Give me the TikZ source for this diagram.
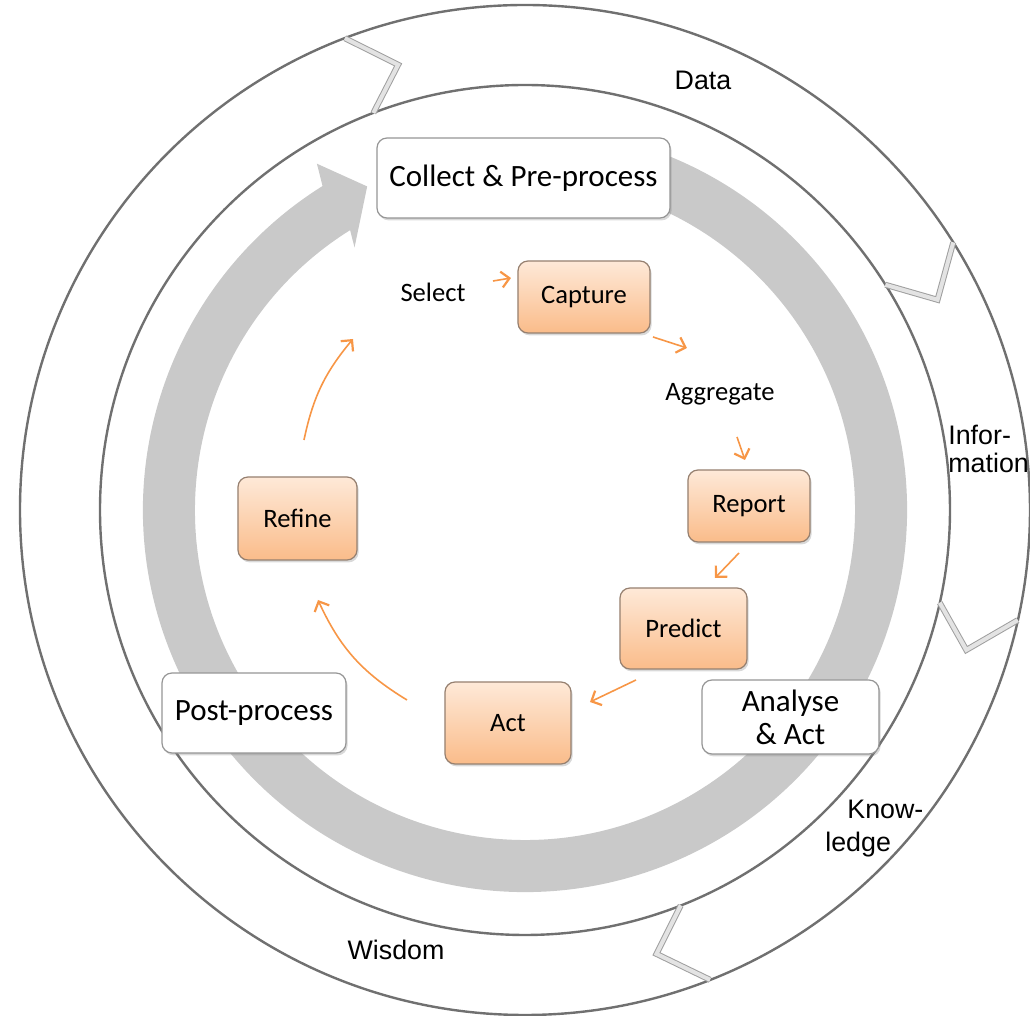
\documentclass[tikz,border=0pt]{standalone}
\usepackage{fontspec}
\setmainfont{Carlito}
\newfontfamily\arialfont{Liberation Sans}
\usetikzlibrary{arrows.meta,shadows}

\definecolor{anillo}{RGB}{112,112,112}
\definecolor{banda}{RGB}{201,201,201}
\definecolor{bordegris}{RGB}{150,150,150}
\definecolor{bordenaranja}{RGB}{150,128,112}
\definecolor{naranja}{RGB}{247,150,70}
\definecolor{naranjaclaro}{RGB}{254,233,216}
\definecolor{naranjaoscuro}{RGB}{250,188,138}

\begin{document}
\begin{tikzpicture}[x=0.5pt,y=0.5pt,
    fase/.style={draw=bordegris, fill=white, rounded corners=5pt, line width=0.6pt,
        align=center, font=\fontsize{15.5}{16.5}\selectfont,
        drop shadow={shadow xshift=0.8pt, shadow yshift=-1.2pt, opacity=0.3}},
    paso/.style={draw=bordenaranja, top color=naranjaclaro, bottom color=naranjaoscuro,
        rounded corners=5pt, line width=0.6pt, font=\fontsize{13.3}{15}\selectfont,
        drop shadow={shadow xshift=0.8pt, shadow yshift=-1.2pt, opacity=0.3}},
    etiqueta/.style={font=\fontsize{13.3}{15}\selectfont},
    nivel/.style={font=\arialfont\fontsize{13.4}{14}\selectfont},
    flecha/.style={naranja, line width=0.8pt,
        -{Straight Barb[length=4pt, width=8pt, line width=1.1pt]}},
    muesca/.style={draw=gray!75, line width=0.5pt, double=gray!22, double distance=2pt}
]
    \useasboundingbox (-525,510) rectangle (505,-506);

    % Anillos exteriores
    \draw[anillo, line width=1.2pt] (0,0) circle[radius=505];
    \draw[anillo, line width=1.2pt] (0,0) circle[radius=425];

    % Muescas entre los anillos
    \foreach \a in {110.9,32,-12.6,-68.5}
        \draw[muesca] (\a:505) -- ({\a-5}:463) -- (\a:425);

    % Banda gris con punta de flecha
    \fill[banda] (72:382) arc[start angle=72, end angle=-238, radius=382]
        -- (121:404) -- (116:360) -- (123:313) -- (122:330)
        arc[start angle=-238, end angle=72, radius=330] -- cycle;

    % Etiquetas de los anillos
    \node[nivel] (datos) at (178,430) {Data};
    \node[nivel, anchor=west, align=left, inner sep=0pt] (info) at (423,61) {Infor-\\mation};
    \node[nivel, anchor=west, align=left, inner sep=0pt, font=\arialfont\fontsize{13.4}{16.5}\selectfont]
        (conoc) at (300,-318.5) {\hspace*{11pt}Know-\\ledge};
    \node[nivel] (sabid) at (-129,-440) {Wisdom};

    % Cajas blancas
    \node[fase, minimum width=146.5pt, minimum height=40pt] (recoger) at (-1.5,332) {Collect \& Pre-process};
    \node[fase, minimum width=92pt, minimum height=40pt] (post) at (-271,-203) {Post-process};
    \node[fase, minimum width=88.5pt, minimum height=37pt] (analiza) at (265.5,-207) {Analyse\\\& Act};

    % Pasos del ciclo
    \node[paso, minimum width=66pt, minimum height=36pt] (captura) at (59,213) {Capture};
    \node[paso, minimum width=61pt, minimum height=36pt] (informe) at (224,4) {Report};
    \node[paso, minimum width=63.5pt, minimum height=40.5pt] (predice) at (158.5,-118.5) {Predict};
    \node[paso, minimum width=63pt, minimum height=41pt] (actua) at (-17,-213) {Act};
    \node[paso, minimum width=59.5pt, minimum height=41.5pt] (refina) at (-227.5,-8.5) {Refine};
    \node[etiqueta] (selec) at (-92,218) {Select};
    \node[etiqueta] (agreg) at (195,116) {Aggregate};

    % Flechas naranjas
    \coordinate (sel-a) at (-32,229);   \coordinate (sel-b) at (-14,232);
    \coordinate (cap-a) at (128,173);   \coordinate (cap-b) at (162,162);
    \coordinate (agr-a) at (212,73);    \coordinate (agr-b) at (220,50);
    \coordinate (rep-a) at (214,-43);   \coordinate (rep-b) at (190,-68);
    \coordinate (pre-a) at (111,-170);  \coordinate (pre-b) at (65,-192);
    \coordinate (act-a) at (-118,-190); \coordinate (act-b) at (-207,-90);
    \coordinate (ref-a) at (-221,70);   \coordinate (ref-b) at (-172,171);
    \draw[flecha] (sel-a) -- (sel-b);
    \draw[flecha] (cap-a) -- (cap-b);
    \draw[flecha] (agr-a) -- (agr-b);
    \draw[flecha] (rep-a) -- (rep-b);
    \draw[flecha] (pre-a) -- (pre-b);
    \draw[flecha] (act-a) to[bend left=17] (act-b);
    \draw[flecha] (ref-a) to[bend left=14] (ref-b);
\end{tikzpicture}
\end{document}
